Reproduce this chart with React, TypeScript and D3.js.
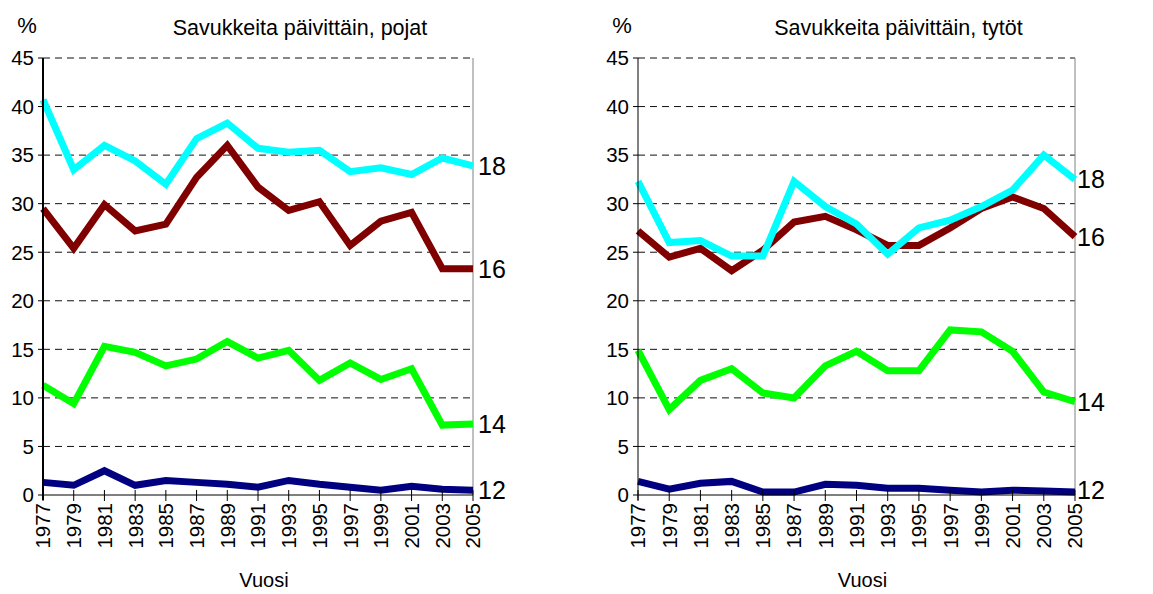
import React from "react";
import * as d3 from "d3";

const years = [1977, 1979, 1981, 1983, 1985, 1987, 1989, 1991, 1993, 1995, 1997, 1999, 2001, 2003, 2005];
const yTicks = [0, 5, 10, 15, 20, 25, 30, 35, 40, 45];
const ageLabels = ["12", "14", "16", "18"];
const titles = ["Savukkeita päivittäin, pojat", "Savukkeita päivittäin, tytöt"];
const xAxisTitle = "Vuosi";
const unitLabel = "%";

const boys12 = [1.3, 1.0, 2.5, 1.0, 1.5, 1.3, 1.1, 0.8, 1.5, 1.1, 0.8, 0.5, 0.9, 0.6, 0.5];
const boys14 = [11.3, 9.4, 15.3, 14.7, 13.3, 14.0, 15.8, 14.1, 14.9, 11.8, 13.6, 11.9, 13.0, 7.2, 7.3];
const boys16 = [29.5, 25.4, 29.9, 27.2, 27.9, 32.7, 36.0, 31.7, 29.3, 30.2, 25.7, 28.2, 29.1, 23.3, 23.3];
const boys18 = [40.7, 33.5, 36.0, 34.4, 32.0, 36.7, 38.3, 35.7, 35.3, 35.5, 33.3, 33.7, 33.0, 34.7, 33.9];

const girls12 = [1.4, 0.6, 1.2, 1.4, 0.3, 0.3, 1.1, 1.0, 0.7, 0.7, 0.5, 0.3, 0.5, 0.4, 0.3];
const girls14 = [14.9, 8.8, 11.8, 13.0, 10.5, 10.0, 13.3, 14.8, 12.8, 12.8, 17.0, 16.8, 14.8, 10.6, 9.6];
const girls16 = [27.2, 24.5, 25.4, 23.1, 25.2, 28.1, 28.7, 27.3, 25.7, 25.7, 27.5, 29.5, 30.7, 29.5, 26.6];
const girls18 = [32.3, 26.0, 26.2, 24.6, 24.6, 32.3, 29.7, 27.9, 24.8, 27.5, 28.3, 29.7, 31.4, 35.0, 32.5];

const colors = ["#000080", "#00ff00", "#800000", "#00ffff"];
const FONT = "'Liberation Sans', Arial, sans-serif";

type PanelProps = {
  x0: number;
  x1: number;
  series: number[][];
  title: string;
  axisWidth: number;
  labelGap: number;
};

function Panel({ x0, x1, series, title, axisWidth, labelGap }: PanelProps) {
  const yTop = 58;
  const yBottom = 495;
  const x = d3.scalePoint<number>().domain(years).range([x0, x1]);
  const y = d3.scaleLinear().domain([0, 45]).range([yBottom, yTop]);
  const line = d3
    .line<number>()
    .x((_, i) => x(years[i]) as number)
    .y((d) => y(d));
  const center = (x0 + x1) / 2;

  return (
    <g fontFamily={FONT} fill="#000">
      {yTicks
        .filter((t) => t > 0)
        .map((t) => (
          <line
            key={"g" + t}
            x1={x0}
            x2={x1}
            y1={y(t)}
            y2={y(t)}
            stroke="#111"
            strokeWidth={1}
            strokeDasharray="7,5"
          />
        ))}
      <line x1={x1} x2={x1} y1={y(45)} y2={y(0)} stroke="#808080" strokeWidth={1} />
      {yTicks.map((t) => (
        <g key={"yt" + t}>
          <line x1={x0 - 5} x2={x0} y1={y(t)} y2={y(t)} stroke="#000" strokeWidth={1} />
          <text x={x0 - 9} y={y(t)} dy="0.36em" textAnchor="end" fontSize={20.5}>
            {t}
          </text>
        </g>
      ))}
      {series.map((s, i) => (
        <path
          key={"s" + i}
          d={line(s) || ""}
          fill="none"
          stroke={colors[i]}
          strokeWidth={7}
          strokeLinejoin="miter"
          strokeMiterlimit={4}
        />
      ))}
      <line x1={x0} x2={x0} y1={y(45)} y2={y(0) + 5} stroke="#000" strokeWidth={axisWidth} />
      <line x1={x0} x2={x1} y1={y(0)} y2={y(0)} stroke="#000" strokeWidth={1} />
      {years.map((yr) => (
        <g key={"xt" + yr}>
          <line
            x1={x(yr) as number}
            x2={x(yr) as number}
            y1={y(0) - 5}
            y2={y(0) + 6}
            stroke="#000"
            strokeWidth={1}
          />
          <text
            transform={`translate(${x(yr) as number},${y(0) + 8}) rotate(-90)`}
            dy="0.36em"
            textAnchor="end"
            fontSize={20.5}
          >
            {yr}
          </text>
        </g>
      ))}
      {series.map((s, i) => {
        const ly = Math.min(y(s[s.length - 1]), y(0) - 5);
        return (
          <text key={"al" + i} x={x1 + labelGap} y={ly} dy="0.36em" fontSize={25}>
            {ageLabels[i]}
          </text>
        );
      })}
      <text x={center + 42} y={35} textAnchor="middle" fontSize={21.5}>
        {title}
      </text>
      <text x={x0 - 16} y={33} textAnchor="middle" fontSize={22}>
        {unitLabel}
      </text>
      <text x={center + 6} y={587} textAnchor="middle" fontSize={20}>
        {xAxisTitle}
      </text>
    </g>
  );
}

export default function App() {
  return (
    <svg
      width={1153}
      height={594}
      style={{ position: "absolute", left: 0, top: 0, background: "#fff" }}
    >
      <rect width={1153} height={594} fill="#fff" />
      <Panel
        x0={43}
        x1={473}
        series={[boys12, boys14, boys16, boys18]}
        title={titles[0]}
        axisWidth={2}
        labelGap={5}
      />
      <Panel
        x0={638}
        x1={1075}
        series={[girls12, girls14, girls16, girls18]}
        title={titles[1]}
        axisWidth={1}
        labelGap={2}
      />
    </svg>
  );
}
